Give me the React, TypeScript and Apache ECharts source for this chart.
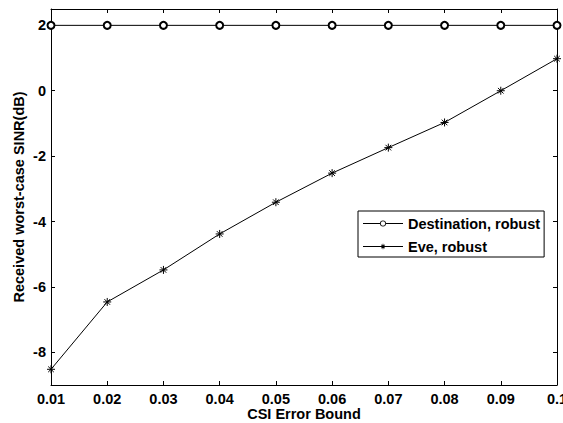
import React, { useEffect, useRef } from "react";
import * as echarts from "echarts";

const csiErrorBound = [0.01, 0.02, 0.03, 0.04, 0.05, 0.06, 0.07, 0.08, 0.09, 0.1];
const destinationRobust = [2, 2, 2, 2, 2, 2, 2, 2, 2, 2];
const eveRobust = [-8.52, -6.46, -5.48, -4.38, -3.41, -2.52, -1.74, -0.97, 0.0, 0.98];
const xTickValues = [0.01, 0.02, 0.03, 0.04, 0.05, 0.06, 0.07, 0.08, 0.09, 0.1];
const yTickValues = [-8, -6, -4, -2, 0, 2];

const FONT = "'Liberation Sans', Arial, sans-serif";
const FS = 14.5;
const ASTERISK =
  "path://M5,0 L5,10 M0,5 L10,5 M1.5,1.5 L8.5,8.5 M8.5,1.5 L1.5,8.5";

// legend icons (40 x 14 box)
const BOX = "M0,0 L0,0 M40,14 L40,14 ";
const LEGEND_CIRCLE =
  "path://" +
  BOX +
  "M0,6.5 L17,6.5 L17,7.5 L0,7.5 Z M23,6.5 L40,6.5 L40,7.5 L23,7.5 Z " +
  "M23,7 A3,3 0 1,0 17,7 A3,3 0 1,0 23,7 Z M22.2,7 A2.2,2.2 0 1,1 17.8,7 A2.2,2.2 0 1,1 22.2,7 Z";
const LEGEND_STAR =
  "path://" +
  BOX +
  "M0,6.5 L40,6.5 L40,7.5 L0,7.5 Z " +
  "M19.6,4.3 L20.4,4.3 L20.4,9.7 L19.6,9.7 Z " +
  "M17.3,6.6 L22.7,6.6 L22.7,7.4 L17.3,7.4 Z " +
  "M18.48,4.92 L22.08,8.52 L21.52,9.08 L17.92,5.48 Z " +
  "M22.08,5.48 L18.48,9.08 L17.92,8.52 L21.52,4.92 Z";

export default function App() {
  const ref = useRef<HTMLDivElement>(null);
  useEffect(() => {
    if (!ref.current) return;
    const chart = echarts.init(ref.current, undefined, { renderer: "svg" });
    const fmtX = (v: number) => String(Number(v.toFixed(2)));
    const txt = { fontFamily: FONT, fontWeight: "bold", fontSize: FS, color: "#000" };
    const axisCommon = {
      axisLine: { show: true, onZero: false, lineStyle: { color: "#000", width: 1 } },
      splitLine: { show: false },
    };
    chart.setOption({
      animation: false,
      backgroundColor: "#fff",
      grid: { left: 51, top: 9, right: 6, bottom: 38, containLabel: false, outerBoundsMode: "none" },
      legend: {
        left: 358,
        top: 211,
        orient: "vertical",
        itemWidth: 40,
        itemHeight: 14,
        itemGap: 8,
        padding: [5, 4, 3, 5],
        borderColor: "#000",
        borderWidth: 1,
        backgroundColor: "#fff",
        borderRadius: 0,
        itemStyle: { borderWidth: 0, color: "#000" },
        lineStyle: { width: 0 },
        textStyle: txt,
        data: [
          { name: "Destination, robust", icon: LEGEND_CIRCLE },
          { name: "Eve, robust", icon: LEGEND_STAR },
        ],
      },
      xAxis: [
        {
          type: "value",
          min: 0.01,
          max: 0.1,
          position: "bottom",
          name: "CSI Error Bound",
          nameLocation: "middle",
          nameGap: 21,
          nameMoveOverlap: false,
          nameTextStyle: txt,
          ...axisCommon,
          axisTick: { show: true, inside: true, length: 4, customValues: xTickValues, lineStyle: { color: "#000" } },
          axisLabel: { show: true, customValues: xTickValues, formatter: fmtX, margin: 6, ...txt },
        },
        {
          type: "value",
          min: 0.01,
          max: 0.1,
          position: "top",
          ...axisCommon,
          axisTick: { show: true, inside: true, length: 4, customValues: xTickValues, lineStyle: { color: "#000" } },
          axisLabel: { show: false },
        },
      ],
      yAxis: [
        {
          type: "value",
          min: -9,
          max: 2.5,
          position: "left",
          name: "Received worst-case SINR(dB)",
          nameLocation: "middle",
          nameGap: 25,
          nameMoveOverlap: false,
          nameTextStyle: txt,
          ...axisCommon,
          axisTick: { show: true, inside: true, length: 4, customValues: yTickValues, lineStyle: { color: "#000" } },
          axisLabel: { show: true, customValues: yTickValues, margin: 5, ...txt },
        },
        {
          type: "value",
          min: -9,
          max: 2.5,
          position: "right",
          ...axisCommon,
          axisTick: { show: true, inside: true, length: 4, customValues: yTickValues, lineStyle: { color: "#000" } },
          axisLabel: { show: false },
        },
      ],
      series: [
        {
          name: "Destination, robust",
          type: "line",
          xAxisIndex: 0,
          yAxisIndex: 0,
          data: csiErrorBound.map((x, i) => [x, destinationRobust[i]]),
          symbol: "emptyCircle",
          symbolSize: 7,
          lineStyle: { color: "#000", width: 1 },
          itemStyle: { color: "#000", borderColor: "#000", borderWidth: 1 },
        },
        {
          name: "Eve, robust",
          type: "line",
          xAxisIndex: 0,
          yAxisIndex: 0,
          data: csiErrorBound.map((x, i) => [x, eveRobust[i]]),
          symbol: ASTERISK,
          symbolSize: 8,
          lineStyle: { color: "#000", width: 1 },
          itemStyle: { color: "#000", borderColor: "#000", borderWidth: 1 },
        },
      ],
    });
    return () => chart.dispose();
  }, []);
  return (
    <div
      ref={ref}
      style={{ position: "absolute", left: 0, top: 0, width: 563, height: 423 }}
    />
  );
}
